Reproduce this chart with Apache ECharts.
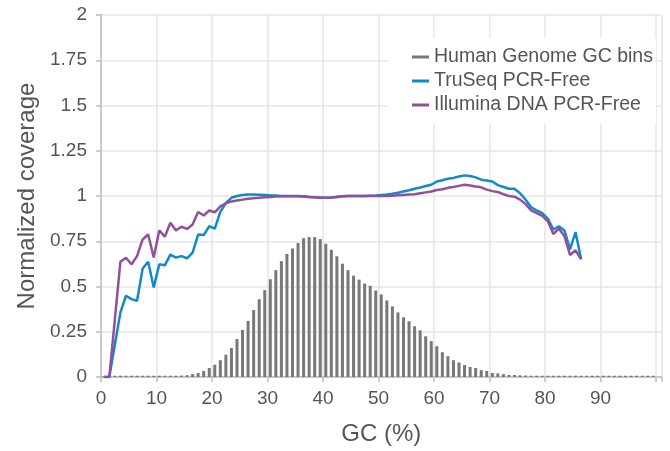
<!DOCTYPE html>
<html>
<head>
<meta charset="utf-8">
<script src="https://cdn.jsdelivr.net/npm/echarts@6/dist/echarts.min.js"></script>
<style>html,body{margin:0;padding:0;background:#fff}#chart{width:670px;height:451px}</style>
</head>
<body>
<div id="chart"></div>
<script>
// GC bin centres (%), bins [k, k+1)
const gcBinCenters = [0.5,1.5,2.5,3.5,4.5,5.5,6.5,7.5,8.5,9.5,10.5,11.5,12.5,13.5,14.5,15.5,16.5,17.5,18.5,19.5,
20.5,21.5,22.5,23.5,24.5,25.5,26.5,27.5,28.5,29.5,30.5,31.5,32.5,33.5,34.5,35.5,36.5,37.5,38.5,39.5,
40.5,41.5,42.5,43.5,44.5,45.5,46.5,47.5,48.5,49.5,50.5,51.5,52.5,53.5,54.5,55.5,56.5,57.5,58.5,59.5,
60.5,61.5,62.5,63.5,64.5,65.5,66.5,67.5,68.5,69.5,70.5,71.5,72.5,73.5,74.5,75.5,76.5,77.5,78.5,79.5,
80.5,81.5,82.5,83.5,84.5,85.5,86.5,87.5,88.5,89.5,90.5,91.5,92.5,93.5,94.5,95.5,96.5,97.5,98.5,99.5];

// Human genome GC bin fraction (bars)
const humanGenome = [0.003,0.003,0.007,0.007,0.007,0.007,0.007,0.007,0.007,0.007,0.007,0.007,0.007,0.007,0.008,0.01,0.016,0.022,0.033,0.05,
0.068,0.093,0.123,0.16,0.21,0.26,0.31,0.37,0.43,0.48,0.54,0.59,0.64,0.68,0.71,0.74,0.767,0.773,0.773,0.762,
0.736,0.703,0.667,0.626,0.59,0.56,0.538,0.516,0.504,0.478,0.456,0.423,0.39,0.357,0.33,0.308,0.28,0.258,0.225,0.198,
0.17,0.137,0.115,0.093,0.08,0.066,0.055,0.05,0.038,0.033,0.022,0.02,0.016,0.011,0.011,0.009,0.008,0.007,0.007,0.007,
0.007,0.007,0.007,0.007,0.007,0.007,0.007,0.007,0.007,0.007,0.007,0.007,0.007,0.007,0.007,0.007,0.007,0.007,0.007,0.007];

// TruSeq PCR-Free normalized coverage, bins 0..86
const truSeq = [0,0,0.18,0.357,0.449,0.43,0.421,0.599,0.637,0.495,
0.623,0.617,0.676,0.66,0.668,0.656,0.687,0.787,0.784,0.833,
0.82,0.912,0.962,0.99,1.0,1.005,1.008,1.008,1.007,1.006,
1.004,1.003,1.0,1.0,1.0,1.0,0.998,0.995,0.993,0.99,
0.99,0.992,0.995,0.998,1.0,1.0,1.0,1.0,1.002,1.003,
1.005,1.008,1.012,1.018,1.025,1.032,1.04,1.047,1.055,1.062,
1.08,1.087,1.095,1.1,1.108,1.114,1.11,1.103,1.09,1.086,
1.08,1.06,1.05,1.04,1.04,1.015,0.98,0.938,0.92,0.905,
0.875,0.815,0.833,0.81,0.705,0.80,0.65];

// Illumina DNA PCR-Free normalized coverage, bins 0..86
const illuminaDNA = [0,0,0.32,0.637,0.659,0.623,0.668,0.76,0.787,0.66,
0.81,0.775,0.852,0.81,0.83,0.818,0.842,0.912,0.892,0.92,
0.91,0.943,0.96,0.97,0.975,0.98,0.985,0.988,0.99,0.993,
0.995,0.997,0.998,0.998,0.998,0.998,0.997,0.995,0.993,0.99,
0.99,0.992,0.995,0.998,1.0,1.0,1.0,1.0,1.0,1.0,
1.0,1.0,1.002,1.004,1.006,1.008,1.01,1.015,1.02,1.025,
1.033,1.037,1.045,1.05,1.056,1.062,1.058,1.052,1.048,1.035,
1.027,1.022,1.01,1.0,0.996,0.98,0.955,0.92,0.905,0.89,
0.86,0.79,0.82,0.778,0.674,0.70,0.65];

const xTicks = [0,10,20,30,40,50,60,70,80,90];
const yTicks = [0,0.25,0.5,0.75,1,1.25,1.5,1.75,2];

const seriesNames = ['Human Genome GC bins','TruSeq PCR-Free','Illumina DNA PCR-Free'];
const colors = ['#77787b','#1289cb','#93509a'];

const pair = (xs, ys) => ys.map((v, i) => [xs[i], v]);

const FONT = '"Liberation Sans", Arial, Helvetica, sans-serif';
const chart = echarts.init(document.getElementById('chart'), null, {renderer: 'canvas'});
chart.setOption({
  animation: false,
  backgroundColor: '#fff',
  textStyle: {fontFamily: FONT},
  grid: {left: 101, right: 8.4, top: 15, bottom: 71, containLabel: false},
  legend: {
    orient: 'vertical', left: 388, top: 38,
    padding: [9, 3, 9, 24], itemGap: 4,
    backgroundColor: '#fff',
    icon: 'rect', itemWidth: 17, itemHeight: 3,
    textStyle: {fontSize: 19.5, color: '#555', fontFamily: FONT},
    data: seriesNames
  },
  xAxis: {
    type: 'value', min: 0, max: 101, interval: 10,
    name: 'GC (%)', nameLocation: 'middle', nameGap: 45,
    nameTextStyle: {fontSize: 24, color: '#555', fontFamily: FONT},
    axisLine: {show: true, lineStyle: {color: '#bdbdbd', width: 1.5}},
    axisTick: {show: true, length: 5, lineStyle: {color: '#bdbdbd', width: 1.5}},
    axisLabel: {fontSize: 19, color: '#555', margin: 12, fontFamily: FONT,
      formatter: v => xTicks.indexOf(v) >= 0 ? String(v) : ''},
    splitLine: {show: true, lineStyle: {color: '#e6e6e6', width: 1.5}}
  },
  yAxis: {
    type: 'value', min: 0, max: 2, interval: 0.25,
    name: 'Normalized coverage', nameLocation: 'middle', nameGap: 59,
    nameTextStyle: {fontSize: 24, color: '#555', fontFamily: FONT},
    axisLine: {show: true, lineStyle: {color: '#bdbdbd', width: 1.5}},
    axisTick: {show: true, length: 5, lineStyle: {color: '#bdbdbd', width: 1.5}},
    axisLabel: {fontSize: 19, color: '#555', margin: 14, fontFamily: FONT,
      formatter: v => yTicks.indexOf(v) >= 0 ? String(v) : ''},
    splitLine: {show: true, lineStyle: {color: '#e6e6e6', width: 1.5}}
  },
  series: [
    {name: seriesNames[0], type: 'bar', barWidth: 3, itemStyle: {color: colors[0]},
     data: pair(gcBinCenters, humanGenome), z: 1},
    {name: seriesNames[1], type: 'line', showSymbol: false, symbol: 'none',
     lineStyle: {color: colors[1], width: 2.5}, itemStyle: {color: colors[1]},
     data: pair(gcBinCenters, truSeq), z: 3},
    {name: seriesNames[2], type: 'line', showSymbol: false, symbol: 'none',
     lineStyle: {color: colors[2], width: 2.5}, itemStyle: {color: colors[2]},
     data: pair(gcBinCenters, illuminaDNA), z: 4}
  ]
});
</script>
</body>
</html>
